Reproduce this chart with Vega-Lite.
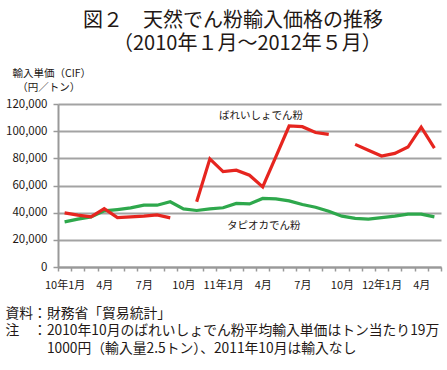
{
  "$schema": "https://vega.github.io/schema/vega-lite/v6.json",
  "width": 383,
  "height": 163,
  "autosize": {"type": "none"},
  "padding": {"left": 58, "top": 104, "right": 6, "bottom": 103},
  "background": "white",
  "config": {"font": "Noto Sans CJK JP", "view": {"stroke": null}},
  "title": {
    "text": ["図２　天然でん粉輸入価格の推移", "\u200b　　（2010年１月～2012年５月）"],
    "anchor": "start",
    "frame": "group",
    "dx": 25,
    "fontSize": 20,
    "fontWeight": "normal",
    "lineHeight": 23,
    "color": "#231815",
    "offset": 14
  },
  "datasets": {
    "prices": [
      {"m": "2010-01", "s": "タピオカでん粉", "v": 33200},
      {"m": "2010-02", "s": "タピオカでん粉", "v": 35200},
      {"m": "2010-03", "s": "タピオカでん粉", "v": 36900},
      {"m": "2010-04", "s": "タピオカでん粉", "v": 41300},
      {"m": "2010-05", "s": "タピオカでん粉", "v": 42300},
      {"m": "2010-06", "s": "タピオカでん粉", "v": 43500},
      {"m": "2010-07", "s": "タピオカでん粉", "v": 45500},
      {"m": "2010-08", "s": "タピオカでん粉", "v": 45500},
      {"m": "2010-09", "s": "タピオカでん粉", "v": 48000},
      {"m": "2010-10", "s": "タピオカでん粉", "v": 42800},
      {"m": "2010-11", "s": "タピオカでん粉", "v": 41600},
      {"m": "2010-12", "s": "タピオカでん粉", "v": 42800},
      {"m": "2011-01", "s": "タピオカでん粉", "v": 43600},
      {"m": "2011-02", "s": "タピオカでん粉", "v": 46800},
      {"m": "2011-03", "s": "タピオカでん粉", "v": 46400},
      {"m": "2011-04", "s": "タピオカでん粉", "v": 50500},
      {"m": "2011-05", "s": "タピオカでん粉", "v": 50200},
      {"m": "2011-06", "s": "タピオカでん粉", "v": 48700},
      {"m": "2011-07", "s": "タピオカでん粉", "v": 46000},
      {"m": "2011-08", "s": "タピオカでん粉", "v": 44000},
      {"m": "2011-09", "s": "タピオカでん粉", "v": 41000},
      {"m": "2011-10", "s": "タピオカでん粉", "v": 37400},
      {"m": "2011-11", "s": "タピオカでん粉", "v": 35800},
      {"m": "2011-12", "s": "タピオカでん粉", "v": 35300},
      {"m": "2012-01", "s": "タピオカでん粉", "v": 36300},
      {"m": "2012-02", "s": "タピオカでん粉", "v": 37400},
      {"m": "2012-03", "s": "タピオカでん粉", "v": 38900},
      {"m": "2012-04", "s": "タピオカでん粉", "v": 38900},
      {"m": "2012-05", "s": "タピオカでん粉", "v": 36900},
      {"m": "2010-01", "s": "ばれいしょでん粉", "v": 39800},
      {"m": "2010-02", "s": "ばれいしょでん粉", "v": 38200},
      {"m": "2010-03", "s": "ばれいしょでん粉", "v": 37000},
      {"m": "2010-04", "s": "ばれいしょでん粉", "v": 43000},
      {"m": "2010-05", "s": "ばれいしょでん粉", "v": 36400},
      {"m": "2010-06", "s": "ばれいしょでん粉", "v": 36900},
      {"m": "2010-07", "s": "ばれいしょでん粉", "v": 37400},
      {"m": "2010-08", "s": "ばれいしょでん粉", "v": 38300},
      {"m": "2010-09", "s": "ばれいしょでん粉", "v": 36200},
      {"m": "2010-10", "s": "ばれいしょでん粉", "v": null},
      {"m": "2010-11", "s": "ばれいしょでん粉", "v": 48000},
      {"m": "2010-12", "s": "ばれいしょでん粉", "v": 79600},
      {"m": "2011-01", "s": "ばれいしょでん粉", "v": 70200},
      {"m": "2011-02", "s": "ばれいしょでん粉", "v": 71300},
      {"m": "2011-03", "s": "ばれいしょでん粉", "v": 67600},
      {"m": "2011-04", "s": "ばれいしょでん粉", "v": 59000},
      {"m": "2011-05", "s": "ばれいしょでん粉", "v": 81300},
      {"m": "2011-06", "s": "ばれいしょでん粉", "v": 103800},
      {"m": "2011-07", "s": "ばれいしょでん粉", "v": 103300},
      {"m": "2011-08", "s": "ばれいしょでん粉", "v": 99000},
      {"m": "2011-09", "s": "ばれいしょでん粉", "v": 97600},
      {"m": "2011-10", "s": "ばれいしょでん粉", "v": null},
      {"m": "2011-11", "s": "ばれいしょでん粉", "v": 90300},
      {"m": "2011-12", "s": "ばれいしょでん粉", "v": 86000},
      {"m": "2012-01", "s": "ばれいしょでん粉", "v": 81700},
      {"m": "2012-02", "s": "ばれいしょでん粉", "v": 83600},
      {"m": "2012-03", "s": "ばれいしょでん粉", "v": 88300},
      {"m": "2012-04", "s": "ばれいしょでん粉", "v": 102900},
      {"m": "2012-05", "s": "ばれいしょでん粉", "v": 87500}
    ],
    "labelsTop": [
      {"m": "2011-01", "v": 111000, "t": "ばれいしょでん粉"}
    ],
    "labelsBottom": [
      {"m": "2011-01", "v": 30000, "t": "タピオカでん粉"}
    ]
  },
  "encoding": {
    "x": {
      "field": "m",
      "type": "ordinal",
      "scale": {"type": "band", "paddingInner": 0, "paddingOuter": 0},
      "axis": {
        "title": ["資料：財務省「貿易統計」", "注　：2010年10月のばれいしょでん粉平均輸入単価はトン当たり19万", "\u200b　　　1000円（輸入量2.5トン）、2011年10月は輸入なし"],
        "titleAnchor": "start",
        "titleAlign": "left",
        "titleX": -53,
        "titleY": 39,
        "titleBaseline": "top",
        "titleFontSize": 13.8,
        "titleFontWeight": "normal",
        "titleLineHeight": 17.8,
        "titleColor": "#231815",
        "labelExpr": "toNumber(substring(datum.value,5,7)) == 1 ? substring(datum.value,2,4) + '年1月' : (indexof([4,7,10], toNumber(substring(datum.value,5,7))) >= 0 ? toNumber(substring(datum.value,5,7)) + '月' : '')",
        "labelAngle": 0,
        "labelFontSize": 11,
        "labelColor": "#231815",
        "labelPadding": 8,
        "labelOverlap": false,
        "tickBand": "extent",
        "tickSize": 4,
        "tickColor": "#999999",
        "tickWidth": 1.5,
        "domainColor": "#999999",
        "domainWidth": 2,
        "grid": false
      }
    },
    "y": {
      "field": "v",
      "type": "quantitative",
      "scale": {"domain": [0, 120000], "nice": false},
      "axis": {
        "tickCount": 6,
        "format": ",.0f",
        "labelOverlap": false,
        "grid": true,
        "gridColor": "#a3a3a3",
        "gridWidth": 2,
        "domainColor": "#999999",
        "domainWidth": 2,
        "tickSize": 5,
        "tickColor": "#999999",
        "tickWidth": 1.5,
        "labelFontSize": 11.5,
        "labelColor": "#231815",
        "labelPadding": 6,
        "title": ["輸入単価（CIF）", "\u200b\u00a0\u00a0（円／トン）"],
        "titleAngle": 0,
        "titleAlign": "left",
        "titleAnchor": "start",
        "titleBaseline": "top",
        "titleX": -46,
        "titleY": -36,
        "titleFontSize": 10.5,
        "titleFontWeight": "normal",
        "titleLineHeight": 14,
        "titleColor": "#231815"
      }
    }
  },
  "layer": [
    {
      "data": {"name": "prices"},
      "mark": {"type": "line", "strokeWidth": 3.2, "invalid": "break-paths-show-domains"},
      "encoding": {
        "color": {
          "field": "s",
          "type": "nominal",
          "scale": {"domain": ["タピオカでん粉", "ばれいしょでん粉"], "range": ["#2ea84c", "#e6251f"]},
          "legend": null
        }
      }
    },
    {
      "data": {"name": "labelsTop"},
      "mark": {"type": "text", "align": "left", "baseline": "middle", "dx": -4, "fontSize": 10.5, "color": "#231815"},
      "encoding": {"text": {"field": "t"}}
    },
    {
      "data": {"name": "labelsBottom"},
      "mark": {"type": "text", "align": "left", "baseline": "middle", "dx": 4, "fontSize": 10.5, "color": "#231815"},
      "encoding": {"text": {"field": "t"}}
    }
  ]
}
